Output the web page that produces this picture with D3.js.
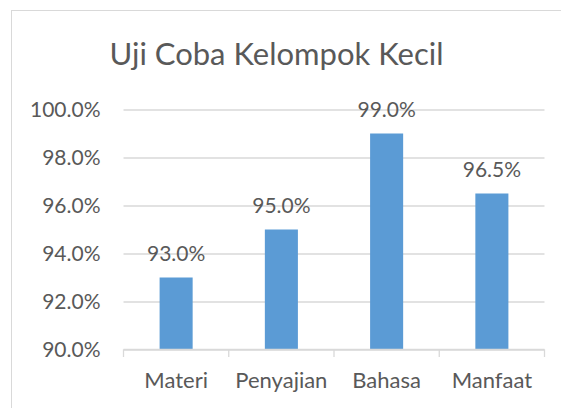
<!DOCTYPE html>
<html>
<head>
<meta charset="utf-8">
<script src="https://cdn.jsdelivr.net/npm/d3@7"></script>
<style>
  html, body { margin: 0; padding: 0; background: #fff; }
  svg { display: block; font-family: Lato, "Open Sans", sans-serif; }
</style>
</head>
<body>
<svg width="561" height="408"></svg>
<script>
'use strict';

// data
var categories = ['Materi', 'Penyajian', 'Bahasa', 'Manfaat'];
var values = [0.93, 0.95, 0.99, 0.965];
var yTicks = [0.90, 0.92, 0.94, 0.96, 0.98, 1.00];
var title = 'Uji Coba Kelompok Kecil';

var svg = d3.select('svg');
var textColor = '#595959';
var gridColor = '#d9d9d9';

// chart frame (right and bottom edges run past the window)
svg.append('rect')
    .attr('x', 11.5)
    .attr('y', 10.5)
    .attr('width', 600)
    .attr('height', 450)
    .attr('fill', '#fff')
    .attr('stroke', gridColor)
    .attr('stroke-width', 1);

var x = d3.scaleBand()
    .domain(categories)
    .range([123.5, 544.5])
    .paddingInner(0.686)
    .paddingOuter(0.343);

var y = d3.scaleLinear()
    .domain([0.90, 1.00])
    .range([349.5, 109.5]);

var pct = d3.format('.1%');

// 标题
svg.append('text')
    .text(title)
    .attr('x', 276.5)
    .attr('y', 65)
    .attr('text-anchor', 'middle')
    .attr('font-size', 31)
    .attr('fill', textColor);

// gridlines + y labels
var yAxis = d3.axisLeft(y)
    .tickValues(yTicks)
    .tickFormat(pct)
    .tickSize(-(544.5 - 123.5))
    .tickPadding(23);

var gy = svg.append('g')
    .attr('transform', 'translate(123.5,0)')
    .call(yAxis);
gy.select('.domain').remove();
gy.selectAll('.tick line')
    .attr('stroke', gridColor)
    .attr('stroke-width', 1.3);
gy.selectAll('.tick text')
    .attr('font-size', 21)
    .attr('font-family', 'Lato')
    .attr('fill', textColor);

// bars
svg.append('g')
    .selectAll('rect')
    .data(values)
    .enter()
    .append('rect')
    .attr('x', function (d, i) { return x(categories[i]); })
    .attr('y', function (d) { return y(d); })
    .attr('width', x.bandwidth())
    .attr('height', function (d) { return y(0.90) - y(d); })
    .attr('fill', '#5b9bd5');

// data labels
svg.append('g')
    .selectAll('text')
    .data(values)
    .enter()
    .append('text')
    .text(function (d) { return pct(d); })
    .attr('x', function (d, i) { return x(categories[i]) + x.bandwidth() / 2; })
    .attr('y', function (d) { return y(d) - 17; })
    .attr('text-anchor', 'middle')
    .attr('font-size', 21)
    .attr('fill', textColor);

// x axis with ticks between categories
var boundaries = [123.5].concat(categories.map(function (c) {
    return x(c) + x.bandwidth() / 2 + x.step() / 2;
}));
var gx = svg.append('g');
gx.append('line')
    .attr('x1', 123.5)
    .attr('x2', 544.5)
    .attr('y1', 349.5)
    .attr('y2', 349.5)
    .attr('stroke', gridColor)
    .attr('stroke-width', 1.3);
gx.selectAll('line.tk')
    .data(boundaries)
    .enter()
    .append('line')
    .attr('class', 'tk')
    .attr('x1', function (d) { return d; })
    .attr('x2', function (d) { return d; })
    .attr('y1', 349.5)
    .attr('y2', 357)
    .attr('stroke', gridColor)
    .attr('stroke-width', 1.3);
gx.selectAll('text')
    .data(categories)
    .enter()
    .append('text')
    .text(function (d) { return d; })
    .attr('x', function (d) { return x(d) + x.bandwidth() / 2; })
    .attr('y', 388)
    .attr('text-anchor', 'middle')
    .attr('font-size', 22)
    .attr('fill', textColor);
</script>
</body>
</html>
